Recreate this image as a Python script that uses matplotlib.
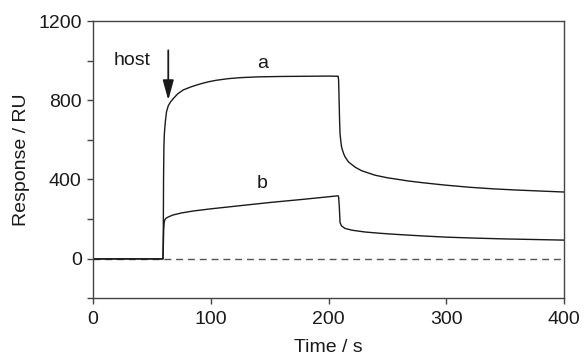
import matplotlib
matplotlib.use("Agg")
import matplotlib.pyplot as plt

plt.rcParams['font.family'] = ['Liberation Sans', 'DejaVu Sans']

# Curve a (sensorgram)
a_time = [0, 59.5, 59.8, 60.0, 60.3, 60.6, 61.0, 61.5, 62.5, 64, 66, 68.2, 72, 76.7,
          84, 91, 98, 105, 115, 125, 140, 160, 180, 200, 208.2, 208.6, 209.0, 209.4,
          209.8, 210.5, 211.1, 212, 213, 214, 217, 222.5, 228, 235, 239.5, 250, 260,
          267.5, 280, 299, 320, 340, 360, 380, 400]
a_resp = [-2, -2, 150, 400, 560, 620, 655, 690, 741, 772, 792, 808, 832, 852,
          869, 882, 893, 901, 909, 914, 918, 920, 921, 922, 921, 900, 800, 700,
          630, 590, 564, 545, 528, 514, 488, 462, 444, 430, 421, 408, 399,
          392, 383, 371, 360, 352, 346, 341, 336]

# Curve b
b_time = [0, 59.5, 59.8, 60.1, 60.5, 61, 62, 64, 68, 75, 85, 100, 125, 150, 180,
          208.2, 208.6, 209.2, 209.8, 211, 214, 220, 231, 245, 260, 280, 300, 325,
          350, 375, 400]
b_resp = [-2, -2, 60, 140, 180, 195, 203, 210, 220, 230, 240, 251, 267, 283, 300,
          317, 310, 260, 182, 165, 152, 143, 134, 127, 121, 114, 108, 103,
          99, 96, 93]

x_ticks = [0, 100, 200, 300, 400]
y_ticks = [-200, 0, 200, 400, 600, 800, 1000, 1200]
y_labels = ['', '0', '', '400', '', '800', '', '1200']

fig = plt.figure(figsize=(5.84, 3.57), dpi=100)
ax = fig.add_axes([0.159, 0.165, 0.807, 0.776])

line_col = '#1a1a1a'
ax.axhline(0, color='#555555', lw=1.0, ls=(0, (5, 3.5)), zorder=1)
ax.plot(a_time, a_resp, color=line_col, lw=1.0, zorder=2)
ax.plot(b_time, b_resp, color=line_col, lw=1.0, zorder=2)

ax.set_xlim(0, 400)
ax.set_ylim(-200, 1200)
ax.set_xticks(x_ticks)
ax.set_xticklabels([str(v) for v in x_ticks])
ax.set_yticks(y_ticks)
ax.set_yticklabels(y_labels)

for s in ax.spines.values():
    s.set_color('#444444')
    s.set_linewidth(1.0)
ax.tick_params(axis='both', direction='out', length=4, width=1.0,
               color='#444444', labelsize=14, labelcolor='#1a1a1a')
ax.tick_params(axis='x', pad=5)
ax.tick_params(axis='y', pad=4)

ax.set_xlabel('Time / s', fontsize=14, color='#1a1a1a', labelpad=8)
ax.set_ylabel('Response / RU', fontsize=14, color='#1a1a1a', labelpad=6)

ax.text(33, 977, 'host', fontsize=14, ha='center', va='baseline', color='#1a1a1a')
ax.text(144, 962, 'a', fontsize=14, ha='center', va='baseline', color='#1a1a1a')
ax.text(144, 356, 'b', fontsize=14, ha='center', va='baseline', color='#1a1a1a')
ax.annotate('', xy=(64, 800), xytext=(64, 1052),
            arrowprops=dict(arrowstyle='-|>,head_length=0.8,head_width=0.22',
                            mutation_scale=15, lw=1.3, color='#1a1a1a',
                            shrinkA=0, shrinkB=0))

fig.savefig('out.png', dpi=100)
